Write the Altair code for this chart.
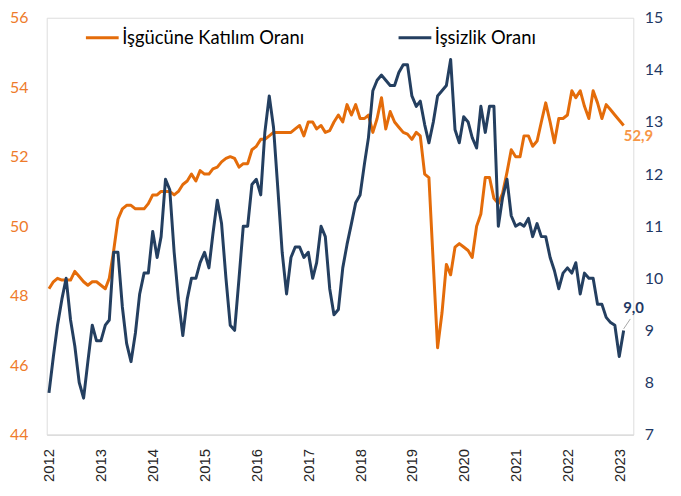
import altair as alt
import pandas as pd

# Monthly series, Jan 2012 - Feb 2023
participation = [
    48.2, 48.4, 48.5, 48.45, 48.45, 48.45, 48.7, 48.55, 48.4, 48.3, 48.4, 48.4,
    48.3, 48.2, 48.5, 49.3, 50.2, 50.5, 50.6, 50.6, 50.5, 50.5, 50.5, 50.65,
    50.9, 50.9, 51.0, 51.0, 51.0, 50.9, 51.0, 51.2, 51.3, 51.5, 51.3, 51.6,
    51.5, 51.5, 51.65, 51.7, 51.85, 51.95, 52.0, 51.95, 51.7, 51.8, 51.8, 52.2,
    52.3, 52.5, 52.5, 52.6, 52.7, 52.7, 52.7, 52.7, 52.7, 52.8, 52.9, 52.6,
    53.0, 53.0, 52.8, 52.9, 52.7, 52.75, 53.0, 53.2, 53.0, 53.5, 53.2, 53.5,
    53.1, 53.1, 53.2, 52.7, 53.1, 53.7, 52.8, 53.3, 53.0, 52.85, 52.7, 52.65,
    52.5, 52.7, 52.6, 51.5, 51.4, 48.9, 46.5, 47.5, 48.9, 48.6, 49.4, 49.5,
    49.4, 49.3, 49.1, 50.0, 50.35, 51.4, 51.4, 50.8, 50.65, 50.95, 51.55, 52.2,
    52.0, 52.0, 52.6, 52.6, 52.3, 52.45, 53.0, 53.55, 53.0, 52.4, 53.1, 53.1,
    53.2, 53.9, 53.7, 53.9, 53.45, 53.1, 53.9, 53.55, 53.1, 53.5, 53.35, 53.2,
    53.05, 52.9,
]
unemployment = [
    7.8, 8.5, 9.1, 9.6, 10.0, 9.2, 8.7, 8.0, 7.7, 8.4, 9.1, 8.8,
    8.8, 9.1, 9.2, 10.5, 10.5, 9.45, 8.75, 8.4, 8.95, 9.7, 10.1, 10.1,
    10.9, 10.4, 10.8, 11.9, 11.7, 10.5, 9.6, 8.9, 9.6, 10.0, 10.0, 10.3,
    10.5, 10.2, 10.85, 11.5, 11.05, 10.0, 9.1, 9.0, 10.0, 11.0, 11.0, 11.8,
    11.9, 11.6, 12.8, 13.5, 12.9, 11.7, 10.5, 9.7, 10.4, 10.6, 10.6, 10.4,
    10.5, 10.0, 10.3, 11.0, 10.8, 9.8, 9.3, 9.4, 10.2, 10.65, 11.05, 11.45,
    11.6, 12.2, 12.7, 13.6, 13.8, 13.9, 13.8, 13.7, 13.7, 13.95, 14.1, 14.1,
    13.5, 13.3, 13.4, 12.95, 12.6, 13.0, 13.5, 13.6, 13.7, 14.2, 12.85, 12.6,
    13.1, 13.0, 12.7, 12.5, 13.3, 12.8, 13.3, 13.3, 11.0, 11.55, 11.9, 11.2,
    11.0, 11.05, 11.0, 11.15, 10.8, 11.05, 10.8, 10.8, 10.4, 10.15, 9.8, 10.1,
    10.2, 10.1, 10.3, 9.7, 10.1, 10.0, 10.0, 9.5, 9.5, 9.25, 9.15, 9.1,
    8.5, 9.0,
]
series_names = ["İşgücüne Katılım Oranı", "İşsizlik Oranı"]
left_ticks = [44, 46, 48, 50, 52, 54, 56]
right_ticks = [7, 8, 9, 10, 11, 12, 13, 14, 15]

ORANGE = "#E46C0A"
ORANGE_LBL = "#EE7B2B"
ORANGE_END = "#F79646"
NAVY = "#243F60"
NAVY_LBL = "#1F3864"

dates = pd.date_range("2012-01-01", periods=len(participation), freq="MS")
df_a = pd.DataFrame({"date": dates, "value": participation, "series": series_names[0]})
df_b = pd.DataFrame({"date": dates, "value": unemployment, "series": series_names[1]})

def fmt(v):
    return f"{v:.1f}".replace(".", ",")

last_a = df_a.tail(1).assign(label=fmt(participation[-1]))
last_b = df_b.tail(1).assign(label=fmt(unemployment[-1]))
leader = pd.DataFrame({
    "date": [dates[-1]], "value": [unemployment[-1] + 0.03],
    "date2": [dates[-1] + pd.Timedelta(days=47)], "value2": [unemployment[-1] + 0.22],
})

LEFT_SCALE = alt.Scale(domain=[44, 56], nice=False, zero=False)
RIGHT_SCALE = alt.Scale(domain=[7, 15], nice=False, zero=False)

x_enc = alt.X(
    "date:T",
    title=None,
    scale=alt.Scale(domain=["2011-12-16", "2023-04-10"]),
    axis=alt.Axis(
        format="%Y", tickCount={"interval": "year", "step": 1}, labelAngle=270,
        labelFont="Liberation Sans", labelFontSize=15, labelColor="#262626",
        labelPadding=14, ticks=False, grid=False, domainColor="#D9D9D9",
        domainWidth=1.3, labelOverlap=False,
    ),
)

color_enc = alt.Color(
    "series:N",
    scale=alt.Scale(domain=series_names, range=[ORANGE, NAVY]),
    legend=alt.Legend(
        title=None, orient="none", direction="horizontal", legendX=38, legendY=2,
        symbolType="stroke", symbolSize=1089, symbolStrokeWidth=3,
        labelFont="Lato", labelFontSize=18.5, labelColor="#000000",
        labelOffset=2, columnPadding=88, labelLimit=0,
    ),
)

y_left = alt.Y(
    "value:Q", title=None, scale=LEFT_SCALE,
    axis=alt.Axis(values=left_ticks, grid=False, domain=False, ticks=False,
                  labelColor=ORANGE_LBL, labelFont="Lato", labelFontSize=16,
                  labelPadding=19, orient="left"),
)
y_right = alt.Y(
    "value:Q", title=None, scale=RIGHT_SCALE,
    axis=alt.Axis(values=right_ticks, grid=False, domain=False, ticks=False,
                  labelColor=NAVY_LBL, labelFont="Lato", labelFontSize=16,
                  labelPadding=11, orient="right"),
)

line_a = alt.Chart(df_a).mark_line(strokeWidth=3, strokeJoin="round").encode(
    x=x_enc, y=y_left, color=color_enc)
text_a = alt.Chart(last_a).mark_text(
    font="Lato", fontSize=15, fontWeight="bold", color=ORANGE_END, dx=15, dy=11
).encode(x="date:T", y=alt.Y("value:Q", scale=LEFT_SCALE), text="label:N")
layer_a = alt.layer(line_a, text_a)

line_b = alt.Chart(df_b).mark_line(strokeWidth=3, strokeJoin="round").encode(
    x="date:T", y=y_right, color="series:N")
rule_b = alt.Chart(leader).mark_rule(color="#A6A6A6", strokeWidth=1).encode(
    x="date:T", x2="date2:T",
    y=alt.Y("value:Q", scale=RIGHT_SCALE), y2="value2:Q")
text_b = alt.Chart(last_b).mark_text(
    font="Lato", fontSize=15, fontWeight="bold", color=NAVY_LBL, dx=10, dy=-23
).encode(x="date:T", y=alt.Y("value:Q", scale=RIGHT_SCALE), text="label:N")
layer_b = alt.layer(line_b, rule_b, text_b)

chart = alt.layer(layer_a, layer_b).resolve_scale(y="independent").properties(
    width=591, height=420,
    autosize=alt.AutoSizeParams(type="none"),
    padding={"left": 39, "top": 8, "right": 40, "bottom": 60},
).configure_view(stroke=None).configure(background="white")

chart.save("out.html", embed_options={"renderer": "svg", "actions": False})
